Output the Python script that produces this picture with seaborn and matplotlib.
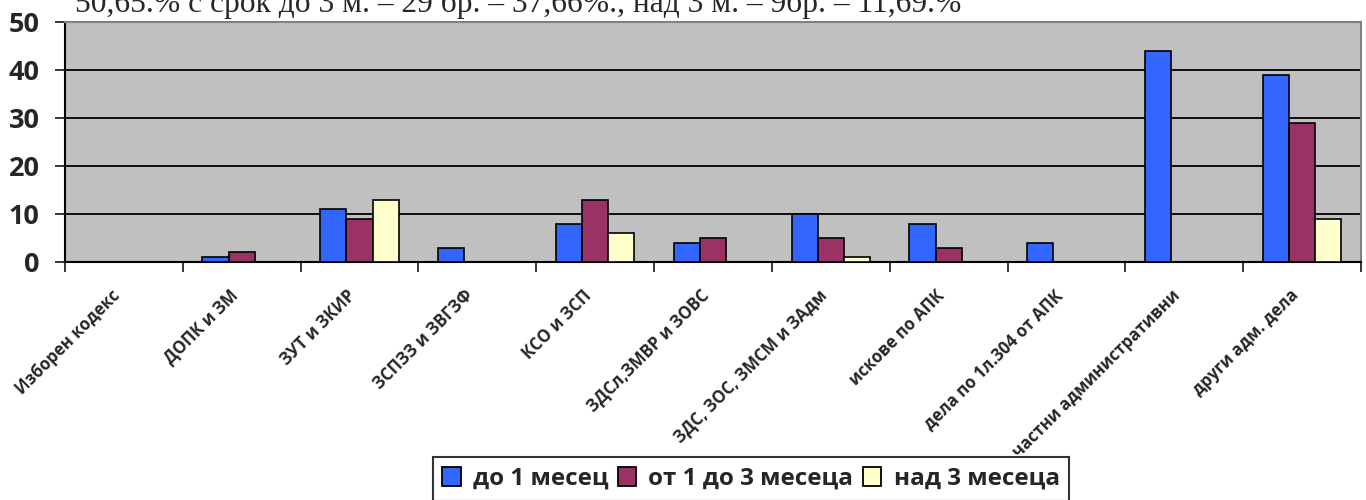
import matplotlib
matplotlib.use("Agg")
import matplotlib.pyplot as plt
from matplotlib.patches import Patch
from matplotlib.transforms import ScaledTranslation
import seaborn as sns
import pandas as pd

# Data
categories = ["Изборен кодекс", "ДОПК и ЗМ", "ЗУТ и ЗКИР", "ЗСПЗЗ и ЗВГЗФ", "КСО и ЗСП",
              "ЗДСл,ЗМВР и ЗОВС", "ЗДС, ЗОС, ЗМСМ и ЗАдм", "искове по АПК",
              "дела по 1л.304 от АПК", "частни административни", "други адм. дела"]
series = ["до 1 месец", "от 1 до 3 месеца", "над 3 месеца"]
up_to_1 = [0, 1, 11, 3, 8, 4, 10, 8, 4, 44, 39]
from_1_to_3 = [0, 2, 9, 0, 13, 5, 5, 3, 0, 0, 29]
over_3 = [0, 0, 13, 0, 6, 0, 1, 0, 0, 0, 9]
colors = ["#3366FF", "#993366", "#FFFFCC"]
yticks = [0, 10, 20, 30, 40, 50]
header = "50,65.% с срок до 3 м. – 29 бр. – 37,66%., над 3 м. – 9бр. – 11,69.%"

df = pd.DataFrame({
    "category": categories * 3,
    "series": [series[0]] * 11 + [series[1]] * 11 + [series[2]] * 11,
    "value": up_to_1 + from_1_to_3 + over_3,
})

sns.set_style("white")
plt.rcParams["font.family"] = ["Open Sans", "DejaVu Sans"]

fig = plt.figure(figsize=(13.66, 5), dpi=100)
ax = fig.add_axes([65 / 1366, 1 - 262 / 500, (1361 - 65) / 1366, (262 - 22) / 500])
ax.set_facecolor("#C0C0C0")

sns.barplot(data=df, x="category", y="value", hue="series", order=categories,
            hue_order=series, palette=colors, saturation=1, width=0.667,
            edgecolor="black", linewidth=1.2, errorbar=None, legend=False, ax=ax, zorder=3)

# axes styling
ax.set_xlim(-0.5, len(categories) - 0.5)
ax.set_ylim(0, 50)
ax.set_yticks(yticks)
ax.set_yticklabels([str(t) for t in yticks], fontsize=19.5, fontweight="bold")
ax.yaxis.grid(True, color="black", linewidth=1.3, zorder=0)
ax.set_axisbelow(True)
ax.tick_params(axis="y", length=7.2, width=1.3, direction="out", pad=11, left=True)

ax.set_xticks(range(len(categories)))
ax.set_xticklabels(categories, rotation=45, ha="right", va="top",
                   rotation_mode="anchor", fontsize=12, fontweight="bold")
ax.tick_params(axis="x", which="major", length=0, pad=14)
ax.set_xticks([i - 0.5 for i in range(len(categories) + 1)], minor=True)
ax.tick_params(axis="x", which="minor", length=7, width=1.3, direction="out", bottom=True)

# nudge the rotated category labels a little left/down like the original
shift = ScaledTranslation(-13 / 100, -5 / 100, fig.dpi_scale_trans)
for lbl in ax.get_xticklabels():
    lbl.set_transform(lbl.get_transform() + shift)

ax.set_xlabel("")
ax.set_ylabel("")
for side in ["left", "bottom"]:
    ax.spines[side].set_color("black")
    ax.spines[side].set_linewidth(1.5)
for side in ["top", "right"]:
    ax.spines[side].set_color("#808080")
    ax.spines[side].set_linewidth(1.5)

# legend
handles = [Patch(facecolor=c, edgecolor="black", linewidth=1.3) for c in colors]
leg = fig.legend(handles, series, loc="upper center", bbox_to_anchor=(751 / 1366, 1 - 445 / 500),
                 ncol=3, frameon=True, fancybox=False, edgecolor="black",
                 prop={"weight": "bold", "size": 17.5}, handlelength=0.75, handleheight=0.8,
                 handletextpad=0.5, columnspacing=0.4, borderpad=0.4)
leg.get_frame().set_linewidth(1.5)

# partial line of document text above the chart
fig.text(75 / 1366, 1 - 12 / 500, header, family="Liberation Serif", fontsize=22.7,
         va="baseline", ha="left")

fig.savefig("out.png", dpi=100)
